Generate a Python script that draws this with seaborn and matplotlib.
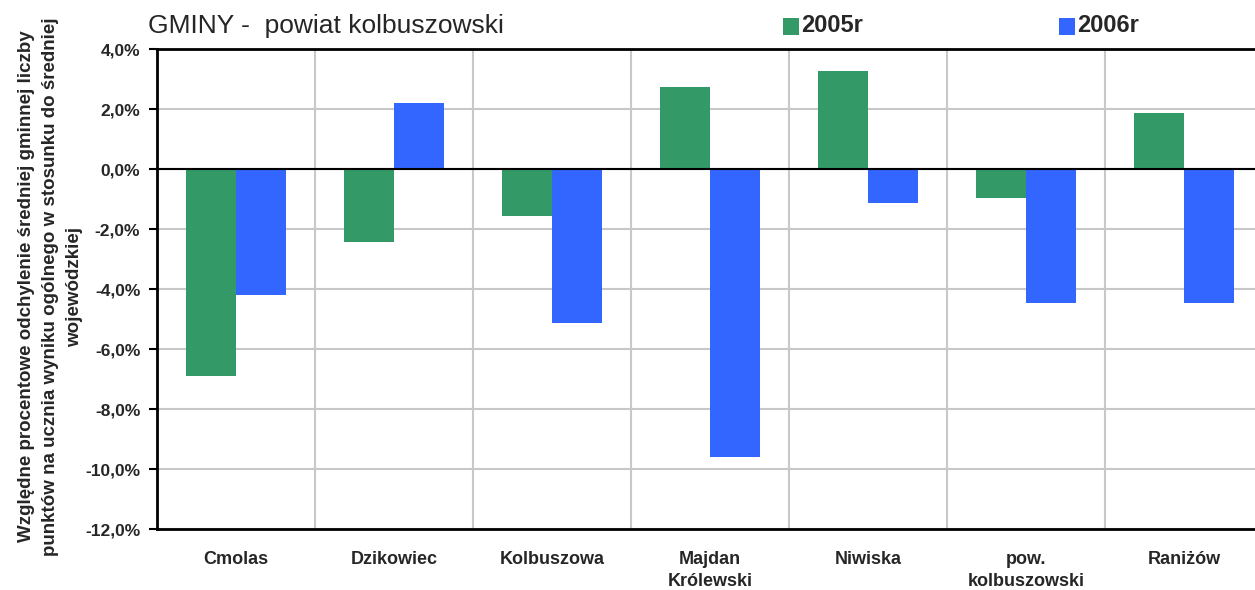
import matplotlib
matplotlib.use("Agg")
import matplotlib.pyplot as plt
import seaborn as sns
import pandas as pd
import numpy as np
from matplotlib.patches import Rectangle

categories = ["Cmolas", "Dzikowiec", "Kolbuszowa", "Majdan\nKrólewski", "Niwiska",
              "pow.\nkolbuszowski", "Raniżów"]
series = ["2005r", "2006r"]
values_2005 = [-6.9, -2.43, -1.57, 2.73, 3.27, -0.97, 1.87]
values_2006 = [-4.2, 2.2, -5.13, -9.6, -1.13, -4.47, -4.47]
yticks = [4, 2, 0, -2, -4, -6, -8, -10, -12]
colors = ["#339966", "#3366FF"]

df = pd.DataFrame({
    "gmina": categories * 2,
    "rok": [series[0]] * len(categories) + [series[1]] * len(categories),
    "val": values_2005 + values_2006,
})

sns.set_theme(style="white")
plt.rcParams["font.family"] = ["Liberation Sans", "DejaVu Sans"]

W, H = 1255, 590
fig = plt.figure(figsize=(W / 100, H / 100), dpi=100)
left, right, top, bottom = 157, 1263, 49, 529
ax = fig.add_axes([left / W, (H - bottom) / H, (right - left) / W, (bottom - top) / H])

sns.barplot(data=df, x="gmina", y="val", hue="rok", palette=colors, width=0.633,
            saturation=1, ax=ax, legend=False, order=categories, hue_order=series,
            linewidth=0, edgecolor="none")

ax.set_xlim(-0.5, 6.5)
ax.set_ylim(-12, 4)
ax.set_yticks(yticks)
ax.set_yticklabels([f"{t:.1f}".replace(".", ",") + "%" for t in yticks],
                   fontsize=12.5, fontweight="bold")
ax.set_xticks(range(len(categories)))
ax.set_xticklabels(categories, fontsize=13, fontweight="bold", linespacing=1.4)
ax.set_xticks(np.arange(0.5, 6.5, 1), minor=True)
ax.grid(True, which="minor", axis="x", color="#C8C8C8", linewidth=1.5, zorder=0)
ax.grid(True, which="major", axis="y", color="#C8C8C8", linewidth=1.5, zorder=0)
ax.set_axisbelow(True)
ax.axhline(0, color="black", linewidth=1.5, zorder=3)
ax.tick_params(axis="y", which="major", left=True, length=6, width=1.5, color="black", pad=6)
ax.tick_params(axis="x", which="both", bottom=False, length=0, pad=16)
for s in ["left", "top", "bottom"]:
    ax.spines[s].set_color("black")
    ax.spines[s].set_linewidth(2)
ax.spines["right"].set_visible(False)
ax.set_xlabel("")
ax.set_ylabel("Względne procentowe odchylenie średniej gminnej liczby\n"
              "punktów na ucznia wyniku ogólnego w stosunku do średniej\n"
              "wojewódzkiej", fontsize=13.5, fontweight="bold", linespacing=1.55)
ax.yaxis.set_label_coords(-0.067, 0.505)

fig.text(148 / W, 1 - 26 / H, "GMINY -  powiat kolbuszowski", fontsize=19, va="center", ha="left")

for x0, lab, c in [(783, series[0], colors[0]), (1059, series[1], colors[1])]:
    fig.patches.append(Rectangle((x0 / W, 1 - 35 / H), 16 / W, 17 / H, transform=fig.transFigure,
                                 facecolor=c, edgecolor="none"))
    fig.text((x0 + 18) / W, 1 - 26 / H, lab, fontsize=17, fontweight="bold", va="center", ha="left")

fig.savefig("out.png", dpi=100)
